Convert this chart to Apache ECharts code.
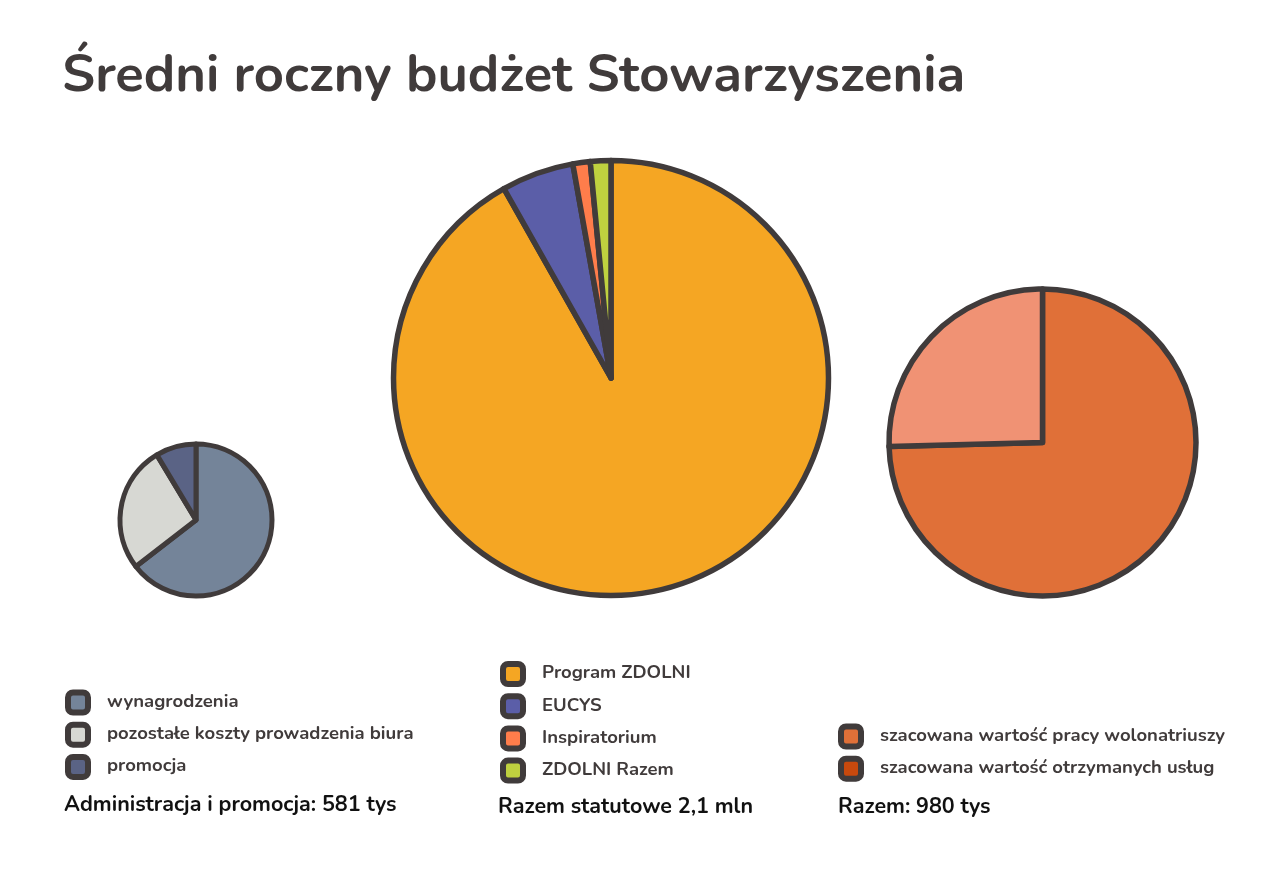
<!DOCTYPE html>
<html>
<head>
<meta charset="utf-8">
<script src="https://cdn.jsdelivr.net/npm/echarts@6/dist/echarts.min.js"></script>
<style>
html,body{margin:0;padding:0;background:#fff;}
#main{width:1281px;height:870px;}
</style>
</head>
<body>
<div id="main"></div>
<script>
// dane (tys. zł)
var adminNames = ['wynagrodzenia', 'pozostałe koszty prowadzenia biura', 'promocja'];
var adminValues = [375, 156, 50];
var adminColors = ['#748499', '#D7D8D3', '#5A6385'];

var statNames = ['Program ZDOLNI', 'EUCYS', 'Inspiratorium', 'ZDOLNI Razem'];
var statValues = [1928, 113, 27, 32];
var statColors = ['#F5A623', '#5B5EA8', '#FF7D4B', '#BFD13F'];

var razemNames = ['szacowana wartość pracy wolonatriuszy', 'szacowana wartość otrzymanych usług'];
var razemValues = [731, 249];
var razemColors = ['#E07038', '#F09274'];
var razemLegendColors = ['#E07038', '#C8490D'];

var tytul = 'Średni roczny budżet Stowarzyszenia';
var podpisy = ['Administracja i promocja: 581 tys', 'Razem statutowe 2,1 mln', 'Razem: 980 tys'];

var ciemny = '#403B3B';
var font = 'Nunito, "Open Sans", Lato, sans-serif';

function dane(names, values, colors) {
    var out = [];
    for (var i = 0; i < names.length; i++) {
        out.push({name: names[i], value: values[i], itemStyle: {color: colors[i]}});
    }
    return out;
}

function pie(center, radius, border, names, values, colors) {
    return {
        type: 'pie',
        center: center,
        radius: radius,
        startAngle: 90,
        clockwise: true,
        label: {show: false},
        labelLine: {show: false},
        emphasis: {disabled: true},
        itemStyle: {borderColor: ciemny, borderWidth: border},
        data: dane(names, values, colors)
    };
}

function legenda(left, top, names, colors) {
    var data = [];
    for (var i = 0; i < names.length; i++) {
        data.push({name: names[i], itemStyle: {color: colors[i], borderColor: ciemny, borderWidth: 6}});
    }
    return {
        orient: 'vertical',
        left: left,
        top: top,
        padding: 0,
        icon: 'roundRect',
        itemWidth: 20,
        itemHeight: 20,
        itemGap: 6.2,
        selectedMode: false,
        textStyle: {color: ciemny, fontSize: 18.5, fontWeight: 'bold', fontFamily: font, padding: [0, 0, 0, 14]},
        data: data
    };
}

var myChart = echarts.init(document.getElementById('main'));
var option = {
    backgroundColor: '#fff',
    animation: false,
    title: [
        {text: tytul, left: 62, top: 52, padding: 0, textStyle: {color: ciemny, fontSize: 52.5, fontWeight: 'bold', fontFamily: font}},
        {text: podpisy[0], left: 64, top: 795, padding: 0, textStyle: {color: '#111', fontSize: 21.5, fontWeight: 'bold', fontFamily: font}},
        {text: podpisy[1], left: 498, top: 797, padding: 0, textStyle: {color: '#111', fontSize: 21.5, fontWeight: 'bold', fontFamily: font}},
        {text: podpisy[2], left: 838, top: 797, padding: 0, textStyle: {color: '#111', fontSize: 21.5, fontWeight: 'bold', fontFamily: font}}
    ],
    legend: [
        legenda(65, 689.5, adminNames, adminColors),
        legenda(500, 661, statNames, statColors),
        legenda(838, 723.5, razemNames, razemLegendColors)
    ],
    series: [
        pie([196, 520], 76, 5, adminNames, adminValues, adminColors),
        pie([611, 378], 217.5, 5.5, statNames, statValues, statColors),
        pie([1042.5, 442.5], 153.5, 5.5, razemNames, razemValues, razemColors)
    ]
};
myChart.setOption(option);
</script>
</body>
</html>
